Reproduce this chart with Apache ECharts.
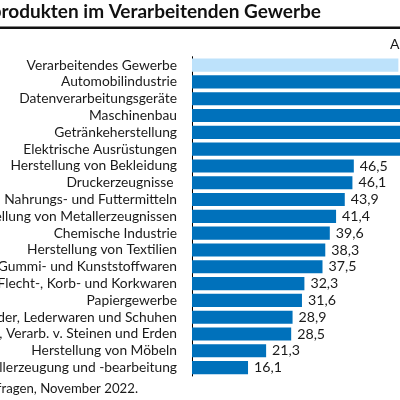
<!DOCTYPE html>
<html><head><meta charset="utf-8">
<script src="https://cdn.jsdelivr.net/npm/echarts@6/dist/echarts.min.js"></script>
<style>html,body{margin:0;padding:0;overflow:hidden;background:#fff;width:400px;height:400px}#c{width:640px;height:400px}</style>
</head><body><div id="c"></div>
<script>
const titleText = 'Knappheit an Vorprodukten im Verarbeitenden Gewerbe';
const unitText = 'Anteil in %';
const sourceText = 'Quelle: ifo Konjunkturumfragen, November 2022.';
const categories = ['Verarbeitendes Gewerbe','Automobilindustrie','Datenverarbeitungsgeräte','Maschinenbau','Getränkeherstellung','Elektrische Ausrüstungen','Herstellung von Bekleidung','Druckerzeugnisse ','Herstellung von Nahrungs- und Futtermitteln','Herstellung von Metallerzeugnissen','Chemische Industrie','Herstellung von Textilien','Herstellung von Gummi- und Kunststoffwaren','Holz-, Flecht-, Korb- und Korkwaren','Papiergewerbe','Herstellung von Leder, Lederwaren und Schuhen','Glas, Keramik, Verarb. v. Steinen und Erden','Herstellung von Möbeln','Metallerzeugung und -bearbeitung'];
const values = [59.3,81.3,79.2,75.7,72.0,71.9,46.5,46.1,43.9,41.4,39.6,38.3,37.5,32.3,31.6,28.9,28.5,21.3,16.1];
const highlightIndex = 0;

const chart = echarts.init(document.getElementById('c'));
chart.setOption({
  animation:false,
  textStyle:{fontFamily:'Lato'},
  grid:{left:192, top:56.7, width:348, height:319.3, outerBoundsMode:'none', containLabel:false},
  xAxis:{type:'value', min:0, max:100, show:false},
  yAxis:{type:'category', inverse:true, data:categories,
    axisLine:{show:true, lineStyle:{color:'#000', width:1}},
    axisTick:{show:false},
    axisLabel:{interval:0, fontSize:13.8, color:'#1a1a1a', margin:15, fontFamily:'Lato'}},
  series:[{type:'bar', barCategoryGap:'22%',
    data: values.map((v,i)=>({value:v, itemStyle:{color: i===highlightIndex?'#bde2fb':'#0071bb'}})),
    label:{show:true, position:'right', distance:6, fontSize:14.2, color:'#1a1a1a', fontFamily:'Lato',
      formatter:p=>p.value.toFixed(1).replace('.',',')}}],
  graphic:[
    {type:'text', x:321, y:2, style:{text:titleText, textAlign:'right', font:'bold 19px Lato', fill:'#111'}},
    {type:'rect', shape:{x:0,y:26.5,width:640,height:2.5}, style:{fill:'#111'}},
    {type:'text', x:390, y:37, style:{text:unitText, font:'14px Lato', fill:'#1a1a1a'}},
    {type:'text', x:138, y:382, style:{text:sourceText, textAlign:'right', font:'13.2px Lato', fill:'#1a1a1a'}}
  ]
});
</script></body></html>
